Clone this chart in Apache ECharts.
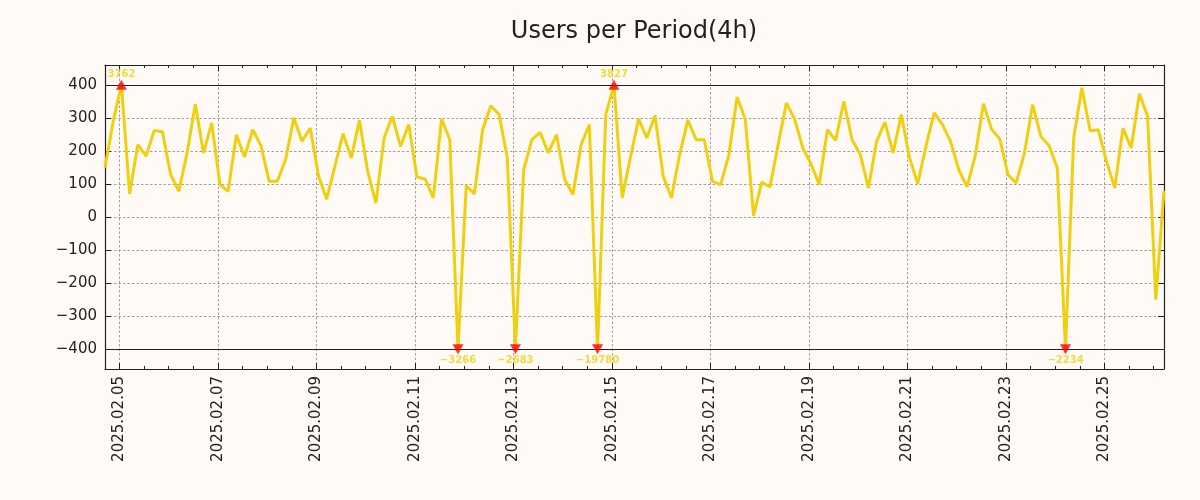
<!DOCTYPE html>
<html>
<head>
<meta charset="utf-8">
<script src="https://cdn.jsdelivr.net/npm/echarts@6/dist/echarts.min.js"></script>
<style>
  html, body { margin: 0; padding: 0; background: #fffaf5; }
  #chart { width: 1200px; height: 500px; }
</style>
</head>
<body>
<div id="chart"></div>
<script>
// ---- data ----
const chartTitle = 'Users per Period(4h)';
// first period starts 7 hours before 2025-02-05 00:00, one value every 4 hours
const firstPeriodHour = -7;
const periodHours = 4;
const userCounts = [
  150, 290, 3762, 70, 219, 184, 262, 258, 128, 78,
  194, 342, 194, 285, 98, 78, 249, 182, 264, 216,
  108, 108, 174, 300, 229, 269, 125, 54, 153, 252,
  179, 293, 138, 42, 239, 305, 214, 280, 121, 115,
  58, 297, 234, -3266, 95, 70, 264, 337, 310, 180,
  -2683, 143, 234, 256, 194, 249, 113, 68, 219, 280,
  -19780, 310, 3827, 58, 180, 297, 239, 307, 123, 58,
  189, 293, 234, 234, 108, 98, 189, 363, 295, 4,
  105, 91, 219, 345, 297, 209, 161, 98, 264, 232,
  350, 234, 189, 88, 229, 287, 194, 310, 179, 101,
  214, 315, 280, 229, 143, 91, 184, 343, 266, 236,
  128, 103, 194, 340, 244, 216, 148, -2234, 240, 391,
  261, 264, 168, 88, 269, 209, 373, 305, -250, 80
];
const xTickLabels = ['2025.02.05', '2025.02.07', '2025.02.09', '2025.02.11', '2025.02.13',
  '2025.02.15', '2025.02.17', '2025.02.19', '2025.02.21', '2025.02.23', '2025.02.25'];
const yTickValues = [-400, -300, -200, -100, 0, 100, 200, 300, 400];
const clipLimit = 400;
const yRange = [-460, 460];

// ---- derived ----
const hourOf = i => firstPeriodHour + i * periodHours;
const xMin = hourOf(0);
const xMax = hourOf(userCounts.length - 1);
const majorHours = xTickLabels.map((_, i) => i * 48);
const minorHours = [];
for (let h = 0; h <= xMax; h += 12) if (h % 48 !== 0) minorHours.push(h);

const lineData = userCounts.map((v, i) => [hourOf(i), Math.max(-clipLimit, Math.min(clipLimit, v))]);
const upData = [], downData = [];
userCounts.forEach((v, i) => {
  if (v > clipLimit) upData.push([hourOf(i), clipLimit, v]);
  else if (v < -clipLimit) downData.push([hourOf(i), -clipLimit, v]);
});

const FONT = 'DejaVu Sans';
const INK = '#222222';
const GOLD = '#f0cf10';
const GRIDC = '#a0a0a0';
const gridRect = { left: 105, right: 36, top: 65, bottom: 131 };
const fmtNum = v => String(v).replace('-', '\u2212');

const majorX = (pos, showLabel) => ({
  type: 'value', gridIndex: 0, position: pos, min: xMin, max: xMax,
  axisLine: { show: true, onZero: false, lineStyle: { color: INK, width: 1.2 } },
  axisTick: { show: true, inside: true, length: 6, customValues: majorHours, lineStyle: { color: INK, width: 1 } },
  axisLabel: showLabel ? {
    show: true, customValues: majorHours, rotate: 90, margin: 7,
    fontFamily: FONT, fontSize: 15, color: INK,
    formatter: v => xTickLabels[Math.round(v / 48)] || ''
  } : { show: false },
  splitLine: showLabel ? { show: true, lineStyle: { color: GRIDC, width: 1, type: [2.5, 2] } } : { show: false }
});
const minorX = pos => ({
  type: 'value', gridIndex: 1, position: pos, min: xMin, max: xMax,
  axisLine: { show: false, onZero: false },
  axisTick: { show: true, inside: true, length: 3, customValues: minorHours, lineStyle: { color: INK, width: 1 } },
  axisLabel: { show: false },
  splitLine: { show: false }
});
const yAx = (pos, showLabel) => ({
  type: 'value', gridIndex: 0, position: pos, min: yRange[0], max: yRange[1],
  axisLine: { show: true, onZero: false, lineStyle: { color: INK, width: 1.2 } },
  axisTick: { show: true, inside: true, length: 6, customValues: yTickValues, lineStyle: { color: INK, width: 1 } },
  axisLabel: showLabel ? {
    show: true, customValues: yTickValues, margin: 8,
    fontFamily: FONT, fontSize: 15, color: INK, formatter: v => fmtNum(v)
  } : { show: false },
  splitLine: showLabel ? { show: true, lineStyle: { color: GRIDC, width: 1, type: [2.5, 2] } } : { show: false }
});

const chart = echarts.init(document.getElementById('chart'), null, { renderer: 'canvas' });
chart.setOption({
  backgroundColor: '#fffaf5',
  animation: false,
  title: {
    text: chartTitle, left: 634, top: 20, textAlign: 'center', padding: 0,
    textStyle: { fontFamily: FONT, fontSize: 24, fontWeight: 'normal', color: INK }
  },
  grid: [Object.assign({}, gridRect), Object.assign({}, gridRect)],
  xAxis: [majorX('bottom', true), majorX('top', false), minorX('bottom'), minorX('top')],
  yAxis: [yAx('left', true), yAx('right', false),
    { type: 'value', gridIndex: 1, min: yRange[0], max: yRange[1], show: false }],
  series: [
    {
      type: 'line', xAxisIndex: 0, yAxisIndex: 0, data: lineData,
      showSymbol: false, symbol: 'none',
      lineStyle: { color: GOLD, width: 3 }, z: 3,
      markLine: {
        silent: true, symbol: 'none', label: { show: false },
        lineStyle: { color: INK, width: 1.2, type: 'solid' },
        data: [{ yAxis: clipLimit }, { yAxis: -clipLimit }]
      }
    },
    {
      type: 'scatter', xAxisIndex: 0, yAxisIndex: 0, data: upData,
      symbol: 'triangle', symbolSize: [11, 10], itemStyle: { color: '#ff0000' }, z: 5,
      label: { show: true, position: 'top', distance: 0, color: GOLD, fontFamily: FONT,
        fontSize: 10, fontWeight: 'bold', formatter: p => fmtNum(p.value[2]) }
    },
    {
      type: 'scatter', xAxisIndex: 0, yAxisIndex: 0, data: downData,
      symbol: 'triangle', symbolRotate: 180, symbolSize: [11, 10], itemStyle: { color: '#ff0000' }, z: 5,
      label: { show: true, position: 'bottom', distance: 1, color: GOLD, fontFamily: FONT,
        fontSize: 10, fontWeight: 'bold', formatter: p => fmtNum(p.value[2]) }
    }
  ]
});
</script>
</body>
</html>
